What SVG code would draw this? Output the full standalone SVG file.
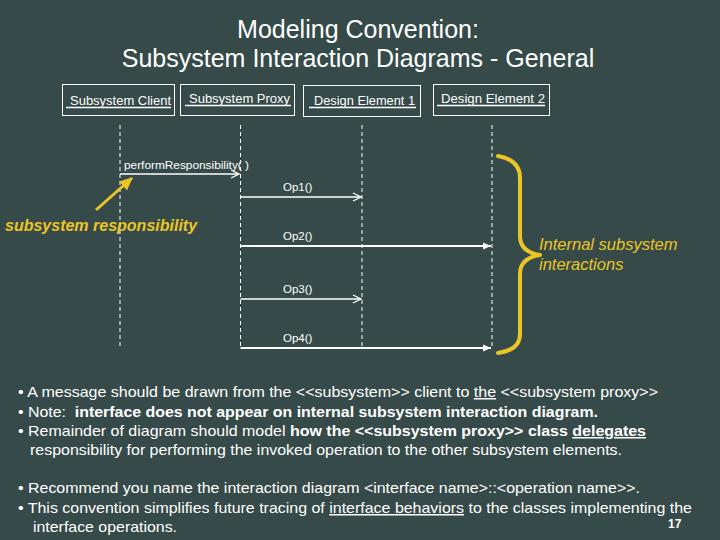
<svg xmlns="http://www.w3.org/2000/svg" width="720" height="540" viewBox="0 0 720 540">
<defs>
<style>
.t{font-family:"Liberation Sans",Arial,sans-serif;fill:#fff}
.box{fill:none;stroke:#fff;stroke-width:1}
.lbl{font-size:12.5px}
.ul{stroke:#fff;stroke-width:1.5}
.life{stroke:#fff;stroke-width:1;stroke-dasharray:4 3;fill:none}
.msg{stroke:#fff;stroke-width:1.3;fill:none}
.msgb{stroke:#fff;stroke-width:2;fill:none}
.ml{font-size:11.5px}
.body{font-size:15px}
.y{fill:#EBC526;font-family:"Liberation Sans",Arial,sans-serif;font-style:italic}
</style>
<marker id="open" markerWidth="10" markerHeight="10" refX="9" refY="5" orient="auto" markerUnits="userSpaceOnUse">
<path d="M1,1 L9,5 L1,9" fill="none" stroke="#fff" stroke-width="1.2"/>
</marker>
<marker id="fill" markerWidth="10" markerHeight="10" refX="9" refY="5" orient="auto" markerUnits="userSpaceOnUse">
<path d="M1,1.5 L9,5 L1,8.5 Z" fill="#fff"/>
</marker>
<marker id="yfill" markerWidth="14" markerHeight="14" refX="12" refY="7" orient="auto" markerUnits="userSpaceOnUse">
<path d="M0,1 L13,7 L0,13 Z" fill="#EBC526"/>
</marker>
</defs>
<rect width="720" height="540" fill="#364B49"/>

<g id="title">
<text class="t" x="358" y="38" font-size="25" text-anchor="middle">Modeling Convention:</text>
<text class="t" x="358" y="67" font-size="25" text-anchor="middle">Subsystem Interaction Diagrams - General</text>
</g>

<g id="subsystem-client">
<rect class="box" x="62.5" y="84.5" width="112" height="31"/>
<text class="t lbl" x="70" y="105" textLength="101" lengthAdjust="spacingAndGlyphs">Subsystem Client</text>
<line class="ul" x1="66" y1="107.5" x2="171" y2="107.5"/>
</g>
<g id="subsystem-proxy">
<rect class="box" x="180.5" y="84.5" width="114" height="31"/>
<text class="t lbl" x="189" y="103" textLength="101" lengthAdjust="spacingAndGlyphs">Subsystem Proxy</text>
<line class="ul" x1="185" y1="105.5" x2="291" y2="105.5"/>
</g>
<g id="design-element-1">
<rect class="box" x="303.5" y="85.5" width="117" height="31"/>
<text class="t lbl" x="314" y="105" textLength="101" lengthAdjust="spacingAndGlyphs">Design Element 1</text>
<line class="ul" x1="309" y1="107.5" x2="416" y2="107.5"/>
</g>
<g id="design-element-2">
<rect class="box" x="433.5" y="84.5" width="116" height="31"/>
<text class="t lbl" x="441" y="103" textLength="104" lengthAdjust="spacingAndGlyphs">Design Element 2</text>
<line class="ul" x1="437" y1="105.5" x2="545" y2="105.5"/>
</g>

<g id="lifelines">
<line class="life" x1="120" y1="125" x2="120" y2="347"/>
<line class="life" x1="240.5" y1="125" x2="240.5" y2="348"/>
<line class="life" x1="362" y1="125" x2="362" y2="348"/>
<line class="life" x1="492" y1="125" x2="492" y2="348"/>
</g>

<g id="connectors">
<line class="msg" x1="120" y1="174" x2="239" y2="174" marker-end="url(#open)"/>
<line class="msg" x1="240.5" y1="197" x2="361" y2="197" marker-end="url(#open)"/>
<line class="msgb" x1="240.5" y1="246" x2="491" y2="246" marker-end="url(#fill)"/>
<line class="msg" x1="240.5" y1="299" x2="361" y2="299" marker-end="url(#open)"/>
<line class="msgb" x1="240.5" y1="348" x2="491" y2="348" marker-end="url(#fill)"/>
</g>

<g id="message-labels">
<text class="t ml" x="124" y="169" textLength="125" lengthAdjust="spacingAndGlyphs">performResponsibility(&#160;)</text>
<text class="t ml" x="283" y="191">Op1()</text>
<text class="t ml" x="283" y="240">Op2()</text>
<text class="t ml" x="283" y="293">Op3()</text>
<text class="t ml" x="283" y="342">Op4()</text>
</g>

<g id="annotation-responsibility">
<line x1="96" y1="210" x2="132" y2="178" stroke="#EBC526" stroke-width="3" marker-end="url(#yfill)"/>
<text class="y" x="5" y="231" font-size="16" font-weight="bold">subsystem responsibility</text>
</g>

<g id="annotation-internal">
<path d="M498,156 Q520,160 520,178 L520,236 Q520,252 540,255 Q520,258 520,274 L520,334 Q520,350 498,353" fill="none" stroke="#EBC526" stroke-width="4" stroke-linecap="round" stroke-linejoin="round"/>
<text class="y" x="539" y="250" font-size="16.5">Internal subsystem</text>
<text class="y" x="539" y="270" font-size="16.5">interactions</text>
</g>

<g id="notes">
<text class="t body" x="18" y="397" textLength="640" lengthAdjust="spacingAndGlyphs">• A message should be drawn from the &lt;&lt;subsystem&gt;&gt; client to <tspan text-decoration="underline">the</tspan> &lt;&lt;subsystem proxy&gt;&gt;</text>
<text class="t body" x="18" y="417" textLength="580" lengthAdjust="spacingAndGlyphs">• Note: &#160;<tspan font-weight="bold">interface does not appear on internal subsystem interaction diagram.</tspan></text>
<text class="t body" x="18" y="436" textLength="628" lengthAdjust="spacingAndGlyphs">• Remainder of diagram should model <tspan font-weight="bold">how the &lt;&lt;subsystem proxy&gt;&gt; class <tspan text-decoration="underline">delegates</tspan></tspan></text>
<text class="t body" x="30" y="455" textLength="592" lengthAdjust="spacingAndGlyphs">responsibility for performing the invoked operation to the other subsystem elements.</text>
<text class="t body" x="18" y="493" textLength="622" lengthAdjust="spacingAndGlyphs">• Recommend you name the interaction diagram &lt;interface name&gt;::&lt;operation name&gt;&gt;.</text>
<text class="t body" x="18" y="513" textLength="674" lengthAdjust="spacingAndGlyphs">• This convention simplifies future tracing of <tspan text-decoration="underline">interface behaviors</tspan> to the classes implementing the</text>
<text class="t body" x="33" y="532" textLength="144" lengthAdjust="spacingAndGlyphs">interface operations.</text>
<text class="t" x="668" y="528" font-size="12" font-weight="bold">17</text>
</g>
</svg>
